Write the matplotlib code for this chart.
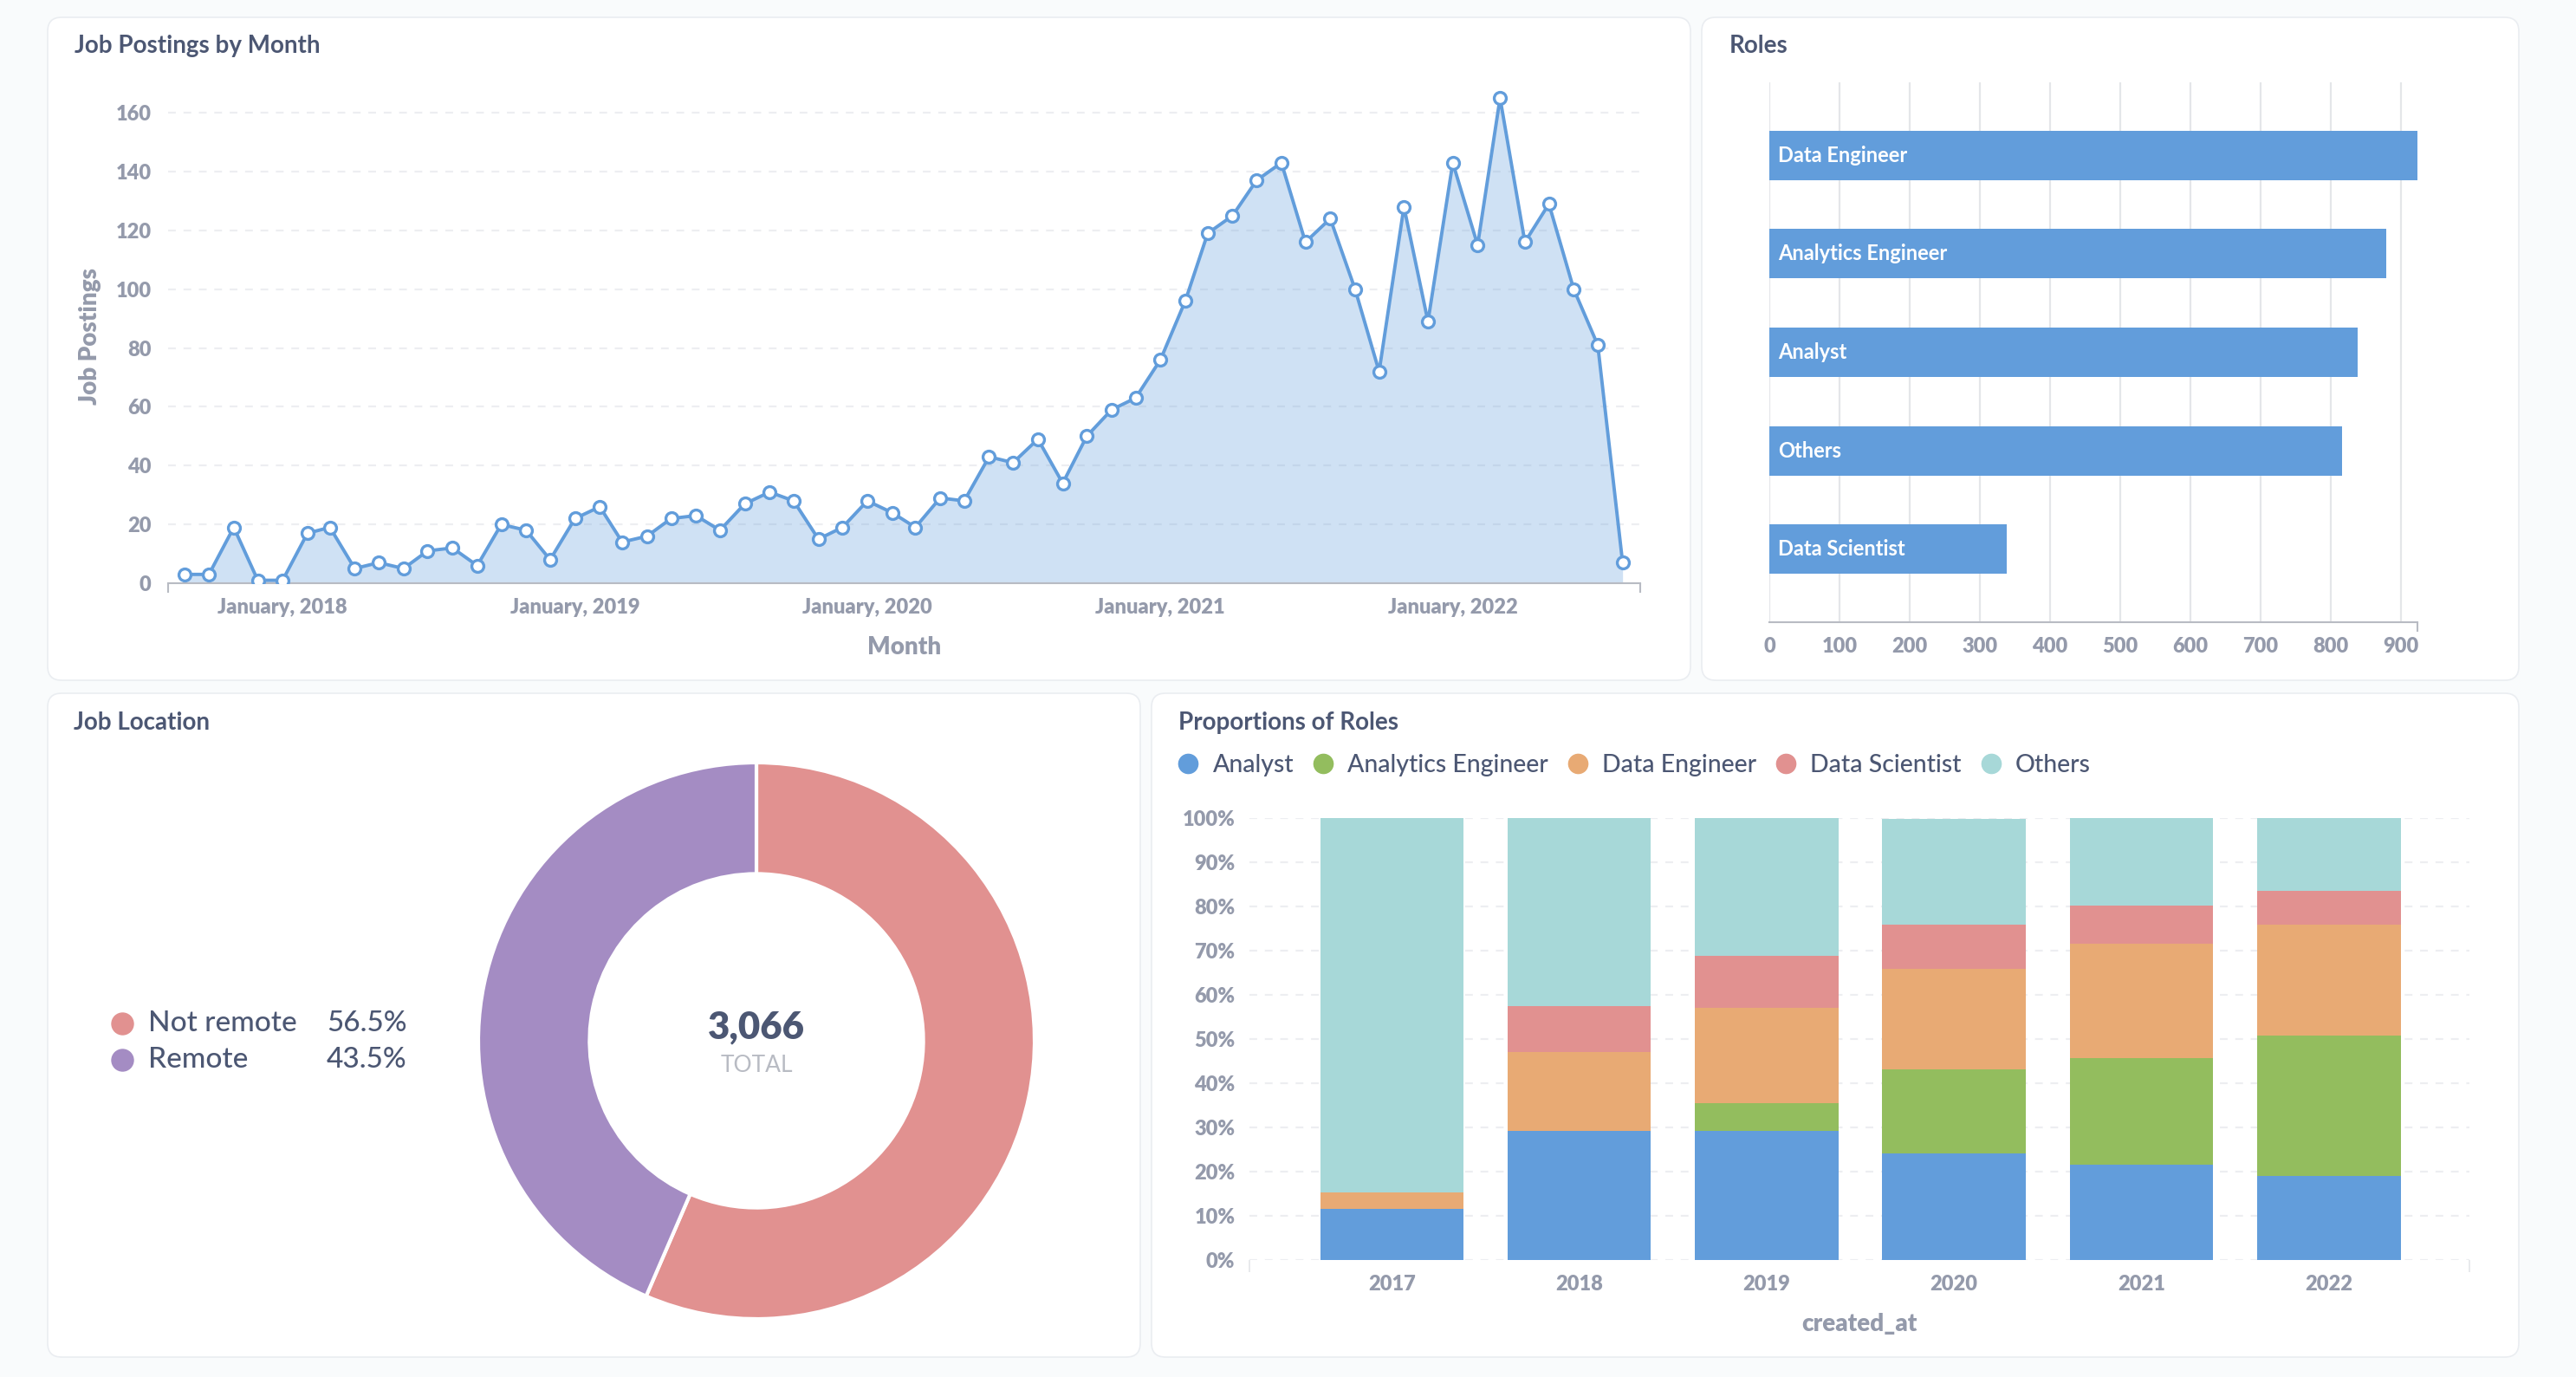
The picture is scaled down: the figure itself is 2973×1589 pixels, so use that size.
import matplotlib.dates as mdates
import matplotlib.pyplot as plt
import numpy as np
from matplotlib.lines import Line2D
from matplotlib.patches import FancyBboxPatch
from matplotlib.transforms import IdentityTransform

plt.rcParams['font.family'] = ['Lato', 'DejaVu Sans']
plt.rcParams['font.weight'] = 'heavy'
plt.rcParams['axes.labelweight'] = 'heavy'

# ---- data ----
months = np.arange('2017-09', '2022-09', dtype='datetime64[M]').astype('datetime64[D]')
postings = [3, 3, 19, 1, 1, 17, 19, 5, 7, 5,
            11, 12, 6, 20, 18, 8, 22, 26, 14, 16,
            22, 23, 18, 27, 31, 28, 15, 19, 28, 24,
            19, 29, 28, 43, 41, 49, 34, 50, 59, 63,
            76, 96, 119, 125, 137, 143, 116, 124, 100, 72,
            128, 89, 143, 115, 165, 116, 129, 100, 81, 7]

roles = ['Data Engineer', 'Analytics Engineer', 'Analyst', 'Others', 'Data Scientist']
role_counts = [923, 879, 839, 816, 338]

location_labels = ['Not remote', 'Remote']
location_counts = [1732, 1334]

years = ['2017', '2018', '2019', '2020', '2021', '2022']
share_analyst = [11.5, 29.3, 29.3, 24.2, 21.5, 19.1]
share_analytics_eng = [0.0, 0.0, 6.3, 18.9, 24.2, 31.8]
share_data_eng = [3.8, 17.8, 21.6, 22.8, 26.0, 25.1]
share_data_sci = [0.0, 10.4, 11.7, 10.1, 8.6, 7.7]
share_others = [84.7, 42.5, 31.1, 24.0, 19.7, 16.3]

# ---- colours ----
BG = '#F9FBFC'
DARK = '#4C5773'
GREY = '#949AAB'
GRID = '#EDEEF1'
AXIS = '#B8BBC3'
BLUE = '#629DDB'
GREEN = '#93BD5E'
ORANGE = '#E8AA74'
RED = '#E19190'
TEAL = '#A7D8D8'
PURPLE = '#A48CC3'

W, H = 2973, 1589
fig = plt.figure(figsize=(W / 100, H / 100), dpi=100)
fig.patch.set_facecolor(BG)


def px_axes(x0, y0, x1, y1):
    # axes placed by pixel box measured from the top-left corner
    return fig.add_axes([x0 / W, 1 - y1 / H, (x1 - x0) / W, (y1 - y0) / H])


def panel(x0, y0, x1, y1):
    box = FancyBboxPatch((x0, H - y1), x1 - x0, y1 - y0,
                         boxstyle='round,pad=0,rounding_size=16',
                         facecolor='white', edgecolor='#EAEDF1', linewidth=1.2,
                         transform=IdentityTransform(), zorder=0)
    fig.add_artist(box)


def title(x, y, text):
    fig.text(x / W, 1 - y / H, text, fontsize=20, fontweight='bold',
             color=DARK, va='center', ha='left')


panel(55, 20, 1951, 785)
panel(1964, 20, 2907, 785)
panel(55, 800, 1316, 1566)
panel(1329, 800, 2907, 1566)

title(86, 53, 'Job Postings by Month')
title(1996, 53, 'Roles')
title(85, 834, 'Job Location')
title(1360, 834, 'Proportions of Roles')

# ---- Job postings by month ----
ax = px_axes(194, 103, 1893, 673)
ax.set_facecolor('none')
ax.fill_between(months, postings, 0, color=BLUE, alpha=0.3, linewidth=0)
ax.plot(months, postings, color=BLUE, linewidth=2.8, marker='o', markersize=10,
        markerfacecolor='white', markeredgecolor=BLUE, markeredgewidth=2.4, zorder=3)
lo = months[0] - np.timedelta64(21, 'D')
hi = months[-1] + np.timedelta64(22, 'D')
ax.set_xlim(lo, hi)
ax.set_ylim(0, 168)
ax.set_yticks(range(0, 161, 20))
ax.xaxis.set_major_locator(mdates.YearLocator(1, month=1, day=1))
ax.xaxis.set_major_formatter(mdates.DateFormatter('%B, %Y'))
ax.set_xticks([mdates.date2num(lo), mdates.date2num(hi)], minor=True)
ax.tick_params(axis='x', which='minor', length=8, width=1.5, color=AXIS)
ax.tick_params(axis='both', which='major', length=0, labelsize=17, labelcolor=GREY)
ax.tick_params(axis='y', pad=14)
ax.tick_params(axis='x', pad=12)
ax.grid(axis='y', color=GRID, linestyle=(0, (4, 4)), linewidth=1.6)
ax.set_axisbelow(True)
for s in ['top', 'right', 'left']:
    ax.spines[s].set_visible(False)
ax.spines['bottom'].set_color(AXIS)
ax.spines['bottom'].set_linewidth(1.5)
ax.set_xlabel('Month', fontsize=20, color=GREY, labelpad=16)
ax.set_ylabel('Job Postings', fontsize=20, color=GREY, labelpad=12)

# ---- Roles ----
ax = px_axes(2042, 95, 2789.5, 718)
ax.set_facecolor('none')
ypos = np.arange(len(roles))
ax.barh(ypos, role_counts, height=0.5, color=BLUE, zorder=2)
for i, name in enumerate(roles):
    ax.annotate(name, xy=(0, i), xytext=(7, 0), textcoords='offset points',
                va='center', ha='left', color='white', fontsize=17,
                fontweight='bold', zorder=3)
ax.set_xlim(0, max(role_counts))
ax.set_ylim(len(roles) - 0.26, -0.74)
ax.set_yticks([])
ax.set_xticks(range(0, 901, 100))
ax.set_xticks([0, max(role_counts)], minor=True)
ax.tick_params(axis='x', which='minor', length=8, width=1.5, color=AXIS)
ax.tick_params(axis='x', which='major', length=0, labelsize=17, labelcolor=GREY, pad=12)
ax.grid(axis='x', color='#E4E6E9', linewidth=1.6)
ax.set_axisbelow(True)
for s in ['top', 'right', 'left']:
    ax.spines[s].set_visible(False)
ax.spines['bottom'].set_color(AXIS)
ax.spines['bottom'].set_linewidth(1.5)

# ---- Job location donut ----
ax = px_axes(552, 880, 1194, 1522)
ax.pie(location_counts, colors=[RED, PURPLE], startangle=90, counterclock=False,
       wedgeprops=dict(width=0.4, edgecolor='white', linewidth=3))
ax.set_xlim(-1, 1)
ax.set_ylim(-1, 1)
ax.set_aspect('equal')
total = sum(location_counts)
ax.text(0, 0.05, f'{total:,}', ha='center', va='center', fontsize=31.5,
        fontweight='heavy', color=DARK)
ax.text(0, -0.09, 'TOTAL', ha='center', va='center', fontsize=19,
        fontweight='normal', color=AXIS)

for k, (name, cnt, col) in enumerate(zip(location_labels, location_counts, [RED, PURPLE])):
    yy = 1 - (1181 + 42 * k) / H
    fig.add_artist(Line2D([141 / W], [yy], marker='o', markersize=18, color=col,
                          linestyle=''))
    fig.text(171 / W, yy, name, fontsize=24, fontweight='medium', color=DARK,
             va='center', ha='left')
    fig.text(377 / W, yy, f'{100 * cnt / total:.1f}%', fontsize=24,
             fontweight='medium', color=DARK, va='center', ha='left')

# ---- Proportions of roles ----
ax = px_axes(1442, 944.5, 2850, 1454)
ax.set_facecolor('none')
x = np.arange(len(years))
series = [('Analyst', share_analyst, BLUE),
          ('Analytics Engineer', share_analytics_eng, GREEN),
          ('Data Engineer', share_data_eng, ORANGE),
          ('Data Scientist', share_data_sci, RED),
          ('Others', share_others, TEAL)]
bottom = np.zeros(len(years))
for name, vals, col in series:
    ax.bar(x, vals, bottom=bottom, width=0.765, color=col, zorder=2)
    bottom += np.array(vals)
ax.set_xlim(-0.76, len(years) - 0.25)
ax.set_ylim(0, 100)
ax.set_xticks(x, years)
ax.set_yticks(range(0, 101, 10), [f'{v}%' for v in range(0, 101, 10)])
ax.set_xticks([-0.76, len(years) - 0.25], minor=True)
ax.tick_params(axis='x', which='minor', length=10, width=1.2, color='#E4E6E9')
ax.tick_params(axis='both', which='major', length=0, labelsize=17, labelcolor=GREY)
ax.tick_params(axis='y', pad=12)
ax.tick_params(axis='x', pad=12)
ax.grid(axis='y', color=GRID, linestyle=(0, (4, 4)), linewidth=1.6)
ax.set_axisbelow(True)
for s in ax.spines.values():
    s.set_visible(False)
ax.set_xlabel('created_at', fontsize=20, color=GREY, labelpad=16)

handles = [Line2D([], [], marker='o', linestyle='', markersize=16, color=col)
           for _, _, col in series]
fig.legend(handles, [s[0] for s in series], loc='center left',
           bbox_to_anchor=(1357 / W, 1 - 883 / H), ncol=5, frameon=False,
           prop={'size': 20.5, 'weight': 'medium'}, labelcolor=DARK,
           handlelength=1.0, handletextpad=0.5, columnspacing=0.68,
           borderpad=0, borderaxespad=0)

fig.savefig('out.png', dpi=100, facecolor=BG)
